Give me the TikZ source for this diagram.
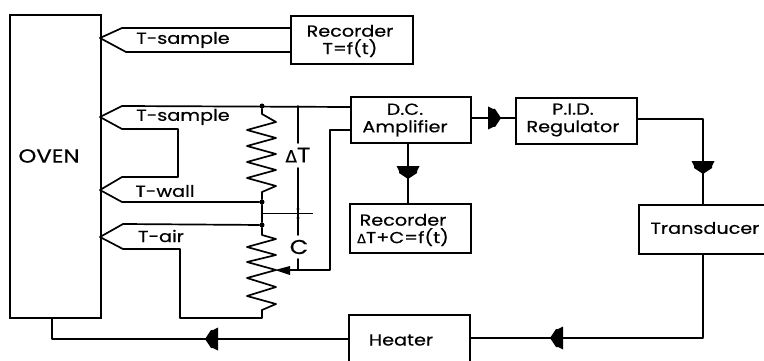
\documentclass[tikz,border=0pt]{standalone}
\usepackage{fontspec}
\setmainfont[FakeBold=0.5,FakeStretch=1.2]{Poppins}
\newfontfamily\gk[FakeBold=0.5]{DejaVu Sans}
\newcommand{\Dl}{{\gk\scalebox{0.8}{Δ}}}
\tikzset{
  wire/.style={line width=1.7pt,line join=round,line cap=round},
  thin wire/.style={line width=0.8pt},
  blockbox/.style={draw,line width=1.7pt,rectangle,inner sep=0pt},
  lab/.style={inner sep=0pt,align=center,font=\fontsize{16}{17.5}\selectfont},
  dot/.style={circle,fill,inner sep=0pt,minimum size=5pt},
  fat/.pic={\fill (-6,-11.5) -- (-1,-9) -- (1,-9) -- (7,0) -- (1,9) -- (-1,9) -- (-6,11.5) -- cycle;}
}
\begin{document}
\begin{tikzpicture}[x=1pt,y=-1pt]
\useasboundingbox (0,0) rectangle (764,361);
% blocks
\node[blockbox,minimum width=91pt,minimum height=303pt,anchor=north west] (oven) at (9,14) {};
\node[blockbox,minimum width=122pt,minimum height=48pt,anchor=north west] (rec1) at (290,15) {};
\node[blockbox,minimum width=120pt,minimum height=46pt,anchor=north west] (amp) at (350,96) {};
\node[blockbox,minimum width=121pt,minimum height=46pt,anchor=north west] (pid) at (515,97) {};
\node[blockbox,minimum width=121pt,minimum height=49pt,anchor=north west] (rec2) at (349,203) {};
\node[blockbox,minimum width=127pt,minimum height=49pt,anchor=north west] (trans) at (638,204) {};
\node[blockbox,minimum width=121pt,minimum height=60pt,anchor=north west] (heat) at (348,314) {};
% block texts
\node[lab] (ovent) at (49,156) {\fontsize{19}{19}\selectfont OVEN};
\node[lab] (rec1t) at (350,41) {Recorder\\T=f(t)};
\node[lab] (ampt) at (405,120) {D.C.\\Amplifier};
\node[lab] (pidt) at (573,120) {P.I.D.\\Regulator};
\node[lab] (rec2t) at (403,230) {Recorder\\\Dl T+C=f(t)};
\node[lab] (transt) at (705,228) {Transducer};
\node[lab] (heatt) at (401,340) {Heater};
% labels
\node[lab] (l1) at (183,40) {T-sample};
\node[lab] (l2) at (183,117) {T-sample};
\node[lab] (l3) at (165,191) {T-wall};
\node[lab] (l4) at (161,236) {T-air};
\node[lab] (dt) at (298,155) {\fontsize{21}{21}\selectfont\Dl T};
\node[lab] (cc) at (299,247) {\fontsize{20}{20}\selectfont C};
% junctions
\node[dot] (j1) at (262,106) {};
\node[dot] (j2) at (262,202) {};
\node[dot] (j3) at (262,225) {};
% probes
\coordinate (t1) at (100,38); \coordinate (t2) at (100,117);
\coordinate (t3) at (100,190); \coordinate (t4) at (100,237);
\draw[wire] (rec1.west|-0,28) -- (122,28) -- (t1) -- (126,52) -- (rec1.west|-0,52);
\draw[wire] (amp.west|-0,107) -- (122,106) -- (t2) -- (122,129) -- (178,129) -- (178,177) -- (122,177) -- (t3) -- (122,202) -- (j2);
\draw[wire] (j3) -- (123,224) -- (t4) -- (123,249) -- (180,249) -- (180,318) -- (262,318) -- (262,310);
% resistors
\draw[wire] (j1) -- (262,114) -- (276,122) -- (247,130) -- (276,138) -- (247,146) -- (276,154) -- (247,162) -- (276,170) -- (247,178) -- (276,186) -- (262,192) -- (j2);
\draw[wire] (j2) -- (j3) -- (262,235) -- (276,239) -- (247,247) -- (276,255) -- (247,262) -- (276,270) -- (247,278) -- (276,287) -- (247,296) -- (276,304) -- (262,310);
% wiper
\coordinate (w) at (275,270);
\coordinate (wr) at (330,270);
\draw[wire] (amp.west|-0,130) -- (330,130) -- (wr) -- (285,270);
\fill (w) -- (290,266) -- (290,275) -- cycle;
% delta T / C measure
\draw[wire] (298,106) -- (298,143);
\draw[wire] (298,168) -- (298,235);
\draw[wire] (298,259) -- (298,270);
\draw[thin wire] (262,213) -- (313,213);
\fill (298,209) circle (1.6pt) (298,218) circle (1.6pt);
% signal path
\draw[wire] (amp.east|-0,118) -- (pid.west|-0,118);
\pic at (494,118) {fat};
\draw[wire] (amp.south-|408,0) -- (rec2.north-|408,0);
\pic[rotate=-90] at (408,172) {fat};
\draw[wire] (pid.east|-0,119) -- (703,119) -- (trans.north-|703,0);
\pic[rotate=-90] at (703,167) {fat};
\draw[wire] (trans.south-|703,0) -- (703,338) -- (heat.east|-0,338);
\pic[rotate=180] at (557,338) {fat};
\draw[wire] (heat.west|-0,339) -- (52,339) -- (oven.south-|52,0);
\pic[rotate=180] at (212,339) {fat};
\end{tikzpicture}
\end{document}
